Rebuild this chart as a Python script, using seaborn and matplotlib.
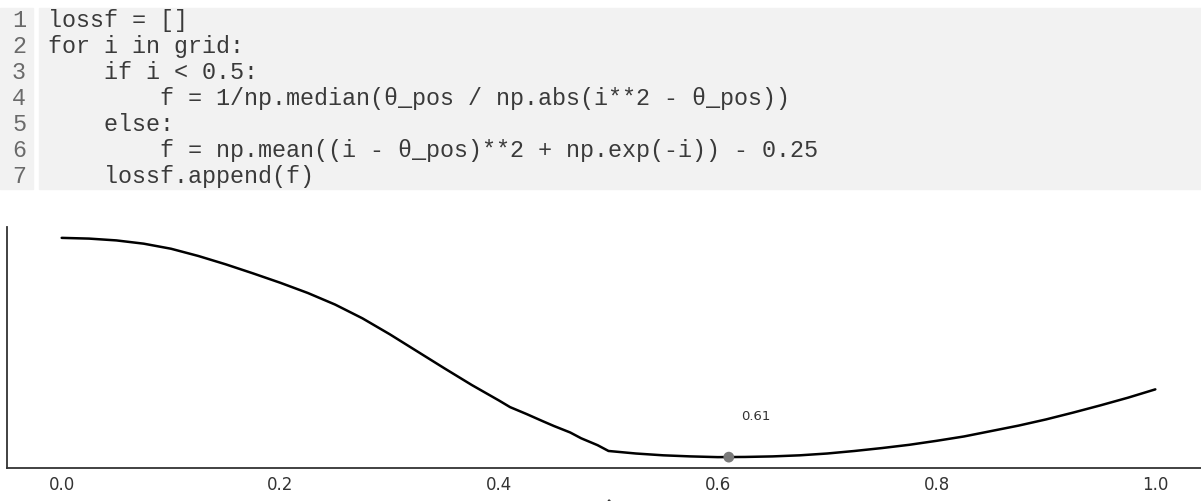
import matplotlib
matplotlib.use('Agg')
from matplotlib import pyplot as plt
from matplotlib.patches import Rectangle
import seaborn as sns

# values of theta_hat on the grid and the loss
grid = [0.0, 0.025, 0.05, 0.075, 0.1, 0.125, 0.15, 0.175, 0.2, 0.225,
        0.25, 0.275, 0.3, 0.325, 0.35, 0.375, 0.4, 0.41, 0.425, 0.44,
        0.45, 0.465, 0.475, 0.49, 0.5, 0.525, 0.55, 0.575, 0.6, 0.625,
        0.65, 0.675, 0.7, 0.725, 0.75, 0.775, 0.8, 0.825, 0.85, 0.875,
        0.9, 0.925, 0.95, 0.975, 1.0]
lossf = [1.000, 0.998, 0.993, 0.984, 0.970, 0.950, 0.927, 0.902, 0.876, 0.848,
         0.816, 0.778, 0.734, 0.687, 0.640, 0.594, 0.551, 0.533, 0.514, 0.494,
         0.481, 0.463, 0.447, 0.428, 0.412, 0.405, 0.400, 0.397, 0.395, 0.3955,
         0.397, 0.400, 0.405, 0.412, 0.420, 0.429, 0.440, 0.452, 0.467, 0.482,
         0.499, 0.518, 0.538, 0.559, 0.582]

# minimum of the loss
min_x = [0.61]
min_y = [0.395]
min_label = '0.61'

xticks = [0.0, 0.2, 0.4, 0.6, 0.8, 1.0]
xtick_labels = ['0.0', '0.2', '0.4', '0.6', '0.8', '1.0']

code_lines = [
    'lossf = []',
    'for i in grid:',
    '    if i < 0.5:',
    '        f = 1/np.median(θ_pos / np.abs(i**2 - θ_pos))',
    '    else:',
    '        f = np.mean((i - θ_pos)**2 + np.exp(-i)) - 0.25',
    '    lossf.append(f)',
]

sns.set_style('white')
plt.rcParams['font.family'] = ['DejaVu Sans']

W, H = 1201, 501
fig = plt.figure(figsize=(W / 100, H / 100), dpi=100)

# code block on top (pixel positions converted to figure fractions)
box_top, box_bottom = 8, 189
fig.patches.append(Rectangle((0, 1 - box_bottom / H), 33 / W, (box_bottom - box_top) / H,
                             transform=fig.transFigure, color='#f2f2f2', zorder=0))
fig.patches.append(Rectangle((39 / W, 1 - box_bottom / H), (W - 39) / W, (box_bottom - box_top) / H,
                             transform=fig.transFigure, color='#f2f2f2', zorder=0))
mono = ['Liberation Mono', 'DejaVu Sans Mono']
for k, line in enumerate(code_lines):
    y = 1 - (27 + 26 * k) / H
    fig.text(26 / W, y, str(k + 1), ha='right', va='baseline',
             family=mono, size=16.8, color='#6a6a6a')
    fig.text(48 / W, y, line, ha='left', va='baseline',
             family=mono, size=16.8, color='#3a3a3a')

# loss curve
ax = fig.add_axes([7 / W, 33 / H, 1203 / W, 241 / H])
sns.lineplot(x=grid, y=lossf, color='black', linewidth=1.8, ax=ax)
sns.scatterplot(x=min_x, y=min_y, color='#7a7a7a', s=60, edgecolor='none', ax=ax, zorder=3)
ax.annotate(min_label, xy=(min_x[0], min_y[0]), xytext=(8.6, 29.5), textcoords='offset points',
            ha='left', va='center', fontsize=9.5, color='#333333')

ax.set_xlim(-0.05, 1.05)
ax.set_ylim(0.365, 1.030)
ax.set_xticks(xticks)
ax.set_xticklabels(xtick_labels)
ax.set_yticks([])
ax.tick_params(axis='x', length=0, pad=6, labelsize=12, colors='#333333')
ax.set_xlabel(r'$\hat{\theta}$', fontsize=14, color='#333333')
for side in ['top', 'right']:
    ax.spines[side].set_visible(False)
for side in ['left', 'bottom']:
    ax.spines[side].set_color('#333333')
    ax.spines[side].set_linewidth(1.3)

fig.savefig('out.png', dpi=100)
